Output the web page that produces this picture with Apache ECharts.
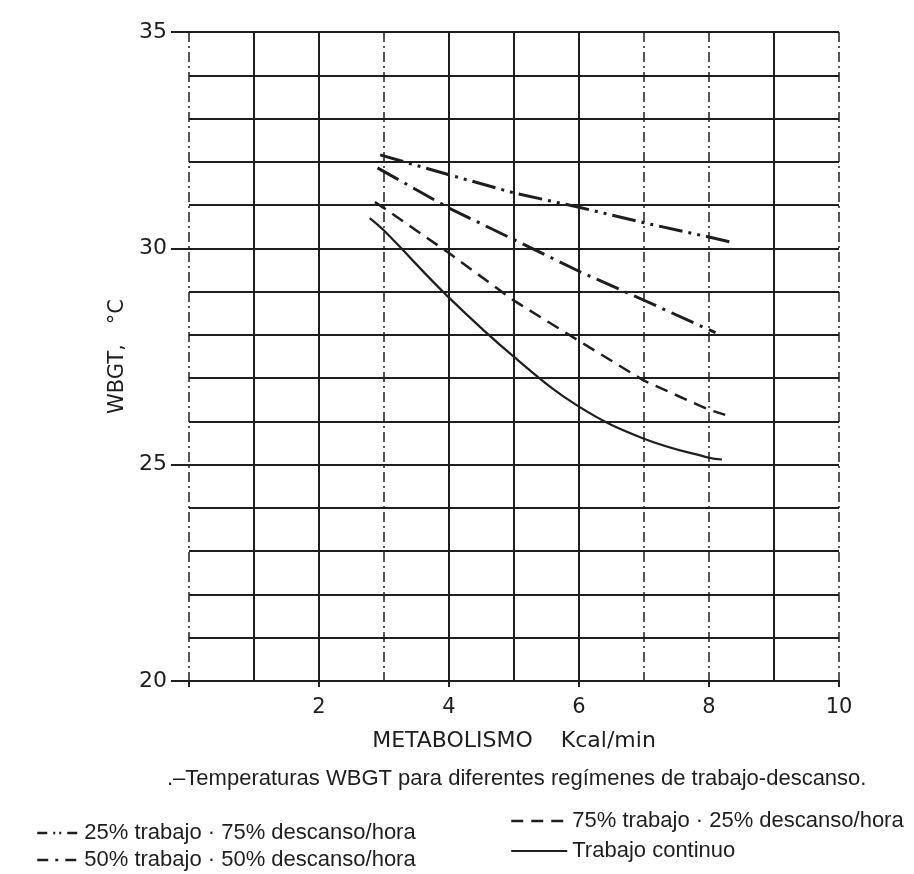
<!DOCTYPE html>
<html><head><meta charset="utf-8">
<script src="https://cdn.jsdelivr.net/npm/echarts@6/dist/echarts.min.js"></script>
<style>html,body{margin:0;padding:0;background:#fff}#c{width:914px;height:874px}</style>
</head><body><div id="c"></div>
<script>
// Data (x = metabolismo Kcal/min, y = WBGT °C)
const x25 = [2.94, 4, 5, 6, 7, 8, 8.32];
const y25 = [32.16, 31.7, 31.28, 30.95, 30.59, 30.26, 30.15];
const x50 = [2.9, 4, 5, 6, 7, 8.1];
const y50 = [31.86, 30.93, 30.2, 29.47, 28.8, 28.05];
const x75 = [2.86, 3, 4, 5, 6, 7, 8, 8.25];
const y75 = [31.07, 30.93, 29.89, 28.79, 27.86, 26.94, 26.27, 26.15];
const xCont = [2.78, 3, 4, 5, 6, 7, 8, 8.2];
const yCont = [30.7, 30.41, 28.86, 27.49, 26.34, 25.6, 25.16, 25.12];

const names = ['25% trabajo · 75% descanso/hora', '50% trabajo · 50% descanso/hora',
               '75% trabajo · 25% descanso/hora', 'Trabajo continuo'];
const xTicks = [0, 2, 4, 6, 8, 10];
const yTicks = [20, 25, 30, 35];
const caption = '.–Temperaturas WBGT para diferentes regímenes de trabajo-descanso.';

const ink = '#1e1e1e';
const fontTxt = 'Liberation Sans';
const fontAxis = 'DejaVu Sans';
const zip = (xs, ys) => xs.map((v, i) => [v, ys[i]]);

// which vertical grid lines (x = 0..10) are solid vs dash-dot in the reference
const solidX = [1, 2, 4, 5, 6, 9];
const col = (on) => Array.from({length: 11}, (_, i) => on(i) ? ink : 'rgba(0,0,0,0)');

const dash25 = [24, 6, 3, 6, 3, 6];
const dash50 = [24, 7, 3, 7];
const dash75 = [13, 8];

const legText = {fontSize: 22, color: ink, fontFamily: fontTxt};
const chart = echarts.init(document.getElementById('c'));
chart.setOption({
  backgroundColor: '#fff',
  animation: false,
  textStyle: {fontFamily: fontTxt, color: ink},
  grid: {left: 189, right: 75, top: 32, bottom: 193},
  title: {
    text: caption, left: 162, top: 763,
    textStyle: {fontFamily: fontTxt, fontSize: 22, fontWeight: 'normal', color: ink}
  },
  legend: [
    {orient: 'vertical', left: 36, top: 822, height: 80, padding: 0, itemGap: 5,
     itemWidth: 42, itemHeight: 14, itemStyle: {opacity: 0}, textStyle: legText,
     data: [
       {name: names[0], lineStyle: {type: [10, 6, 2, 4, 2, 6], width: 2.5}},
       {name: names[1], lineStyle: {type: [11, 7, 3, 7], width: 2.5}}
     ]},
    {orient: 'vertical', left: 510, top: 810, height: 80, padding: 0, itemGap: 8,
     itemWidth: 56, itemHeight: 14, itemStyle: {opacity: 0}, textStyle: legText,
     data: [
       {name: names[2], lineStyle: {type: [12, 8], width: 2.5}},
       {name: names[3], lineStyle: {type: 'solid', width: 2}}
     ]}
  ],
  xAxis: [
    {type: 'value', min: xTicks[0], max: xTicks[xTicks.length - 1], interval: 2, position: 'bottom',
     axisLine: {show: true, lineStyle: {color: ink, width: 2}},
     axisTick: {show: true, length: 6, lineStyle: {color: ink, width: 2}},
     axisLabel: {fontSize: 21, color: ink, margin: 16, fontFamily: fontAxis,
                 formatter: v => v === 0 ? '' : String(v)},
     splitLine: {show: false},
     name: 'METABOLISMO    Kcal/min', nameLocation: 'middle', nameGap: 49,
     nameTextStyle: {fontSize: 22, color: ink, fontFamily: fontAxis}},
    {type: 'value', min: 0, max: 10, interval: 1, show: true, position: 'top',
     axisLine: {show: false}, axisTick: {show: false}, axisLabel: {show: false},
     splitLine: {show: true, showMinLine: true, showMaxLine: true,
                 lineStyle: {color: col(i => solidX.includes(i)), width: 2}}},
    {type: 'value', min: 0, max: 10, interval: 1, show: true, position: 'top',
     axisLine: {show: false}, axisTick: {show: false}, axisLabel: {show: false},
     splitLine: {show: true, showMinLine: true, showMaxLine: true,
                 lineStyle: {color: col(i => !solidX.includes(i)), width: 1.5, type: [10, 4, 2, 4]}}}
  ],
  yAxis: [
    {type: 'value', min: yTicks[0], max: yTicks[yTicks.length - 1], interval: 5,
     axisLine: {show: false},
     axisTick: {show: true, length: 18, lineStyle: {color: ink, width: 2}},
     axisLabel: {fontSize: 22, color: ink, margin: 22, fontFamily: fontAxis},
     splitLine: {show: false},
     name: 'WBGT,   °C', nameLocation: 'middle', nameGap: 46, nameRotate: 90,
     nameTextStyle: {fontSize: 21, color: ink, fontFamily: fontAxis}},
    {type: 'value', min: 20, max: 35, interval: 1, position: 'right',
     axisLine: {show: false}, axisTick: {show: false}, axisLabel: {show: false},
     splitLine: {show: true, showMinLine: true, showMaxLine: true,
                 lineStyle: {color: ink, width: 2}}}
  ],
  series: [
    {name: names[0], type: 'line', data: zip(x25, y25), showSymbol: false, symbol: 'none',
     lineStyle: {color: ink, width: 3, type: dash25}, itemStyle: {color: ink}},
    {name: names[1], type: 'line', data: zip(x50, y50), showSymbol: false, symbol: 'none',
     lineStyle: {color: ink, width: 3, type: dash50}, itemStyle: {color: ink}},
    {name: names[2], type: 'line', data: zip(x75, y75), showSymbol: false, symbol: 'none',
     lineStyle: {color: ink, width: 2.5, type: dash75}, itemStyle: {color: ink}},
    {name: names[3], type: 'line', data: zip(xCont, yCont), showSymbol: false, symbol: 'none', smooth: 0.4,
     lineStyle: {color: ink, width: 2.2, type: 'solid'}, itemStyle: {color: ink}}
  ]
});
</script>
</body></html>
